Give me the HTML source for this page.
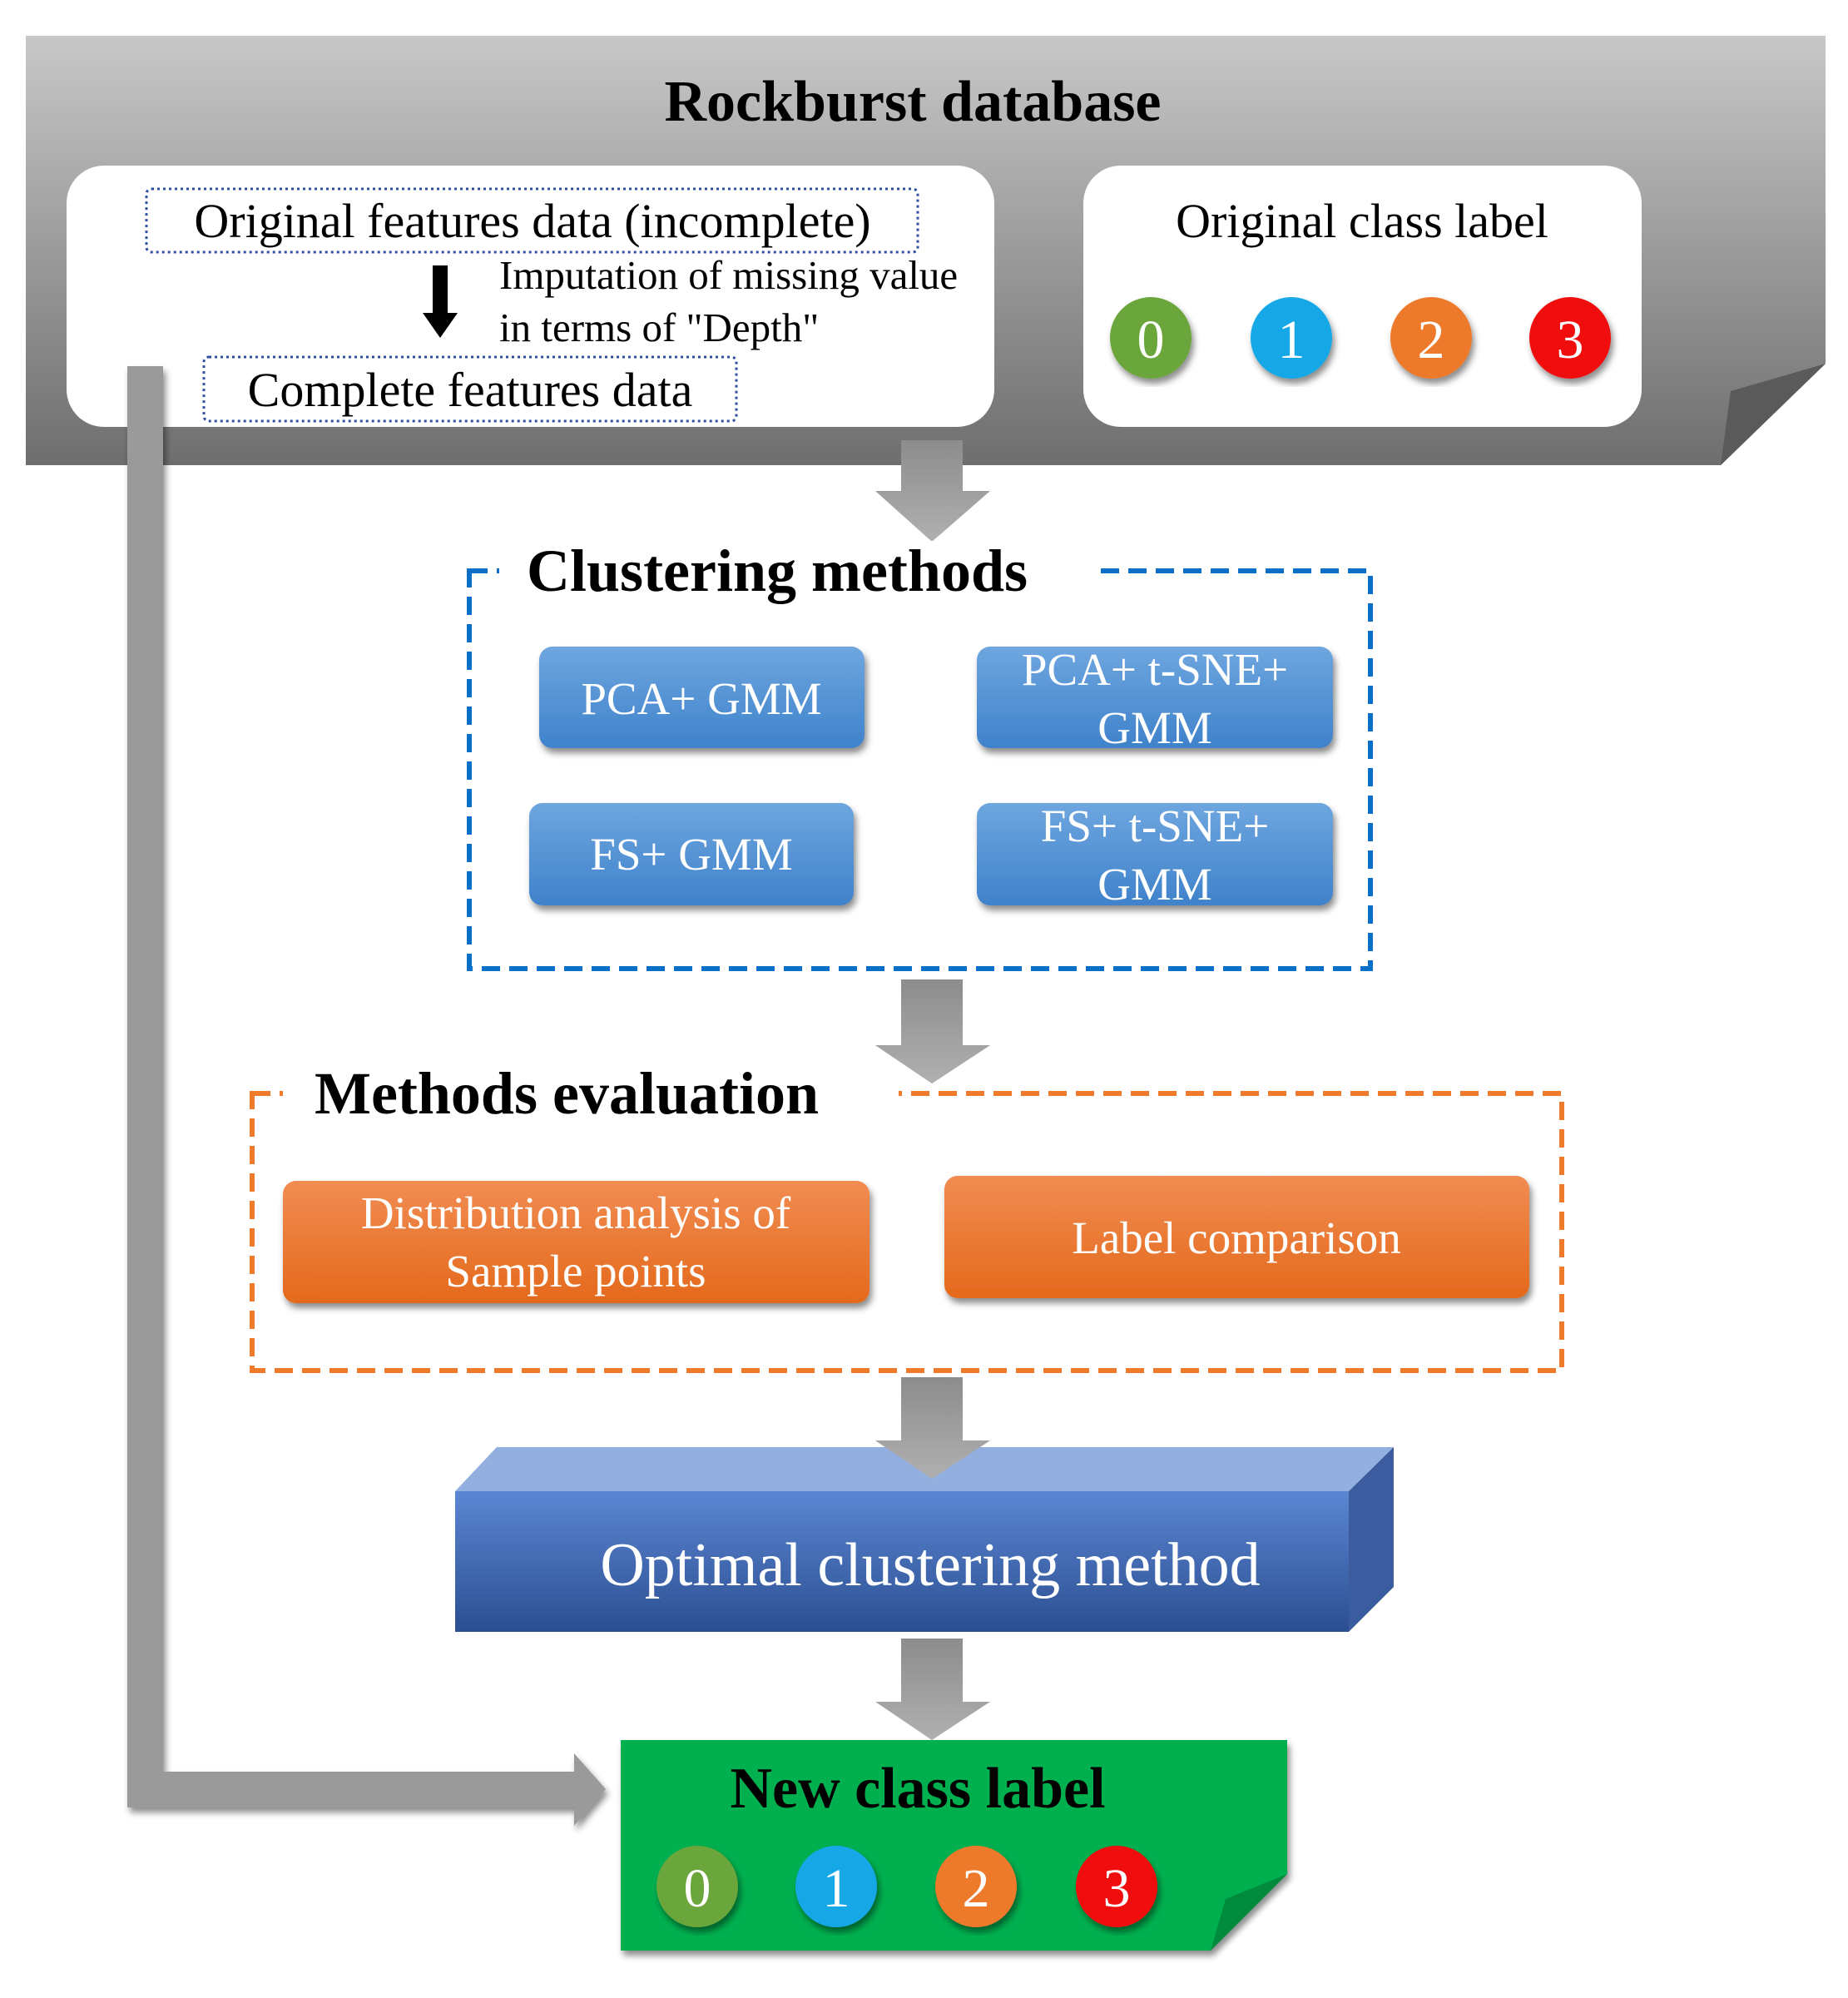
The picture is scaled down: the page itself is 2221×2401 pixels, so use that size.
<!DOCTYPE html>
<html><head><meta charset="utf-8"><style>body{margin:0;background:#fff}svg{display:block}</style></head><body>
<svg width="2221" height="2401" viewBox="0 0 2221 2401" xmlns="http://www.w3.org/2000/svg" font-family="Liberation Serif, serif">
<defs>
<linearGradient id="gb" x1="0" y1="0" x2="0" y2="1"><stop offset="0" stop-color="#c8c8c8"/><stop offset="1" stop-color="#6e6e6e"/></linearGradient>
<linearGradient id="bl" x1="0" y1="0" x2="0" y2="1"><stop offset="0" stop-color="#6ea6df"/><stop offset="1" stop-color="#3f82cb"/></linearGradient>
<linearGradient id="or" x1="0" y1="0" x2="0" y2="1"><stop offset="0" stop-color="#f18c52"/><stop offset="1" stop-color="#e4691b"/></linearGradient>
<linearGradient id="op" x1="0" y1="0" x2="0" y2="1"><stop offset="0" stop-color="#5b86d2"/><stop offset="1" stop-color="#2c4f92"/></linearGradient>
<linearGradient id="ar" x1="0" y1="0" x2="0" y2="1"><stop offset="0" stop-color="#8c8c8c"/><stop offset="1" stop-color="#b0b0b0"/></linearGradient>
<filter id="sh"><feDropShadow dx="3" dy="6" stdDeviation="4" flood-opacity="0.45"/></filter>
</defs>
<!-- gray banner -->
<path d="M31 43 H2194 V437 L2068 559 H31 Z" fill="url(#gb)"/>
<path d="M2194 437 L2080 470 L2068 559 Z" fill="#5a5a5a"/>
<text x="1097" y="145" font-size="70" font-weight="bold" text-anchor="middle">Rockburst database</text>
<rect x="80" y="199" width="1115" height="314" rx="45" fill="#fff"/>
<rect x="1302" y="199" width="671" height="314" rx="45" fill="#fff"/>
<rect x="176" y="227" width="927" height="76" rx="6" fill="none" stroke="#2f4f9f" stroke-width="3" stroke-dasharray="3 4"/>
<text x="640" y="285" font-size="58" text-anchor="middle">Original features data (incomplete)</text>
<path d="M520 319 H538 V376 H550 L529 406 L508 376 H520 Z" fill="#000"/>
<text x="600" y="347" font-size="49">Imputation of missing value</text>
<text x="600" y="410" font-size="49">in terms of "Depth"</text>
<rect x="245" y="429" width="640" height="77" rx="6" fill="none" stroke="#2f4f9f" stroke-width="3" stroke-dasharray="3 4"/>
<text x="565" y="488" font-size="58" text-anchor="middle">Complete features data</text>
<text x="1637" y="285" font-size="58" text-anchor="middle">Original class label</text>
<g filter="url(#sh)" font-size="66" fill="#fff" text-anchor="middle" font-family="Liberation Sans, sans-serif">
<circle cx="1383" cy="406" r="49" fill="#6aa63a"/><circle cx="1552" cy="406" r="49" fill="#12a8e6"/><circle cx="1720" cy="406" r="49" fill="#ec7a2c"/><circle cx="1887" cy="406" r="49" fill="#f01010"/>
</g>
<g font-size="66" fill="#fff" text-anchor="middle"><text x="1383" y="430">0</text><text x="1552" y="430">1</text><text x="1720" y="430">2</text><text x="1887" y="430">3</text></g>
<!-- left connector -->
<path d="M153 440 H196 V2129 H690 V2107 L728 2150 L690 2194 V2172 H153 Z" fill="#9a9a9a" filter="url(#sh)"/>
<!-- arrows -->
<g fill="url(#ar)">
<path d="M1083 529 H1157 V590 H1190 L1120 651 L1052 590 H1083 Z"/>
<path d="M1083 1177 H1157 V1256 H1190 L1120 1302 L1052 1256 H1083 Z"/>
<path d="M1083 1655 H1157 V1731 H1190 L1120 1777 L1052 1731 H1083 Z"/>
</g>
<!-- clustering -->
<rect x="564" y="686" width="1083" height="478" fill="none" stroke="#0a6fc6" stroke-width="6" stroke-dasharray="22 11"/>
<rect x="600" y="650" width="720" height="70" fill="#fff"/>
<text x="633" y="710" font-size="72" font-weight="bold">Clustering methods</text>
<g filter="url(#sh)" fill="url(#bl)">
<rect x="648" y="777" width="391" height="122" rx="16"/><rect x="1174" y="777" width="428" height="122" rx="16"/>
<rect x="636" y="965" width="390" height="123" rx="16"/><rect x="1174" y="965" width="428" height="123" rx="16"/>
</g>
<g fill="#fff" font-size="55" text-anchor="middle">
<text x="843" y="858">PCA+ GMM</text>
<text x="1388" y="823">PCA+ t-SNE+</text><text x="1388" y="893">GMM</text>
<text x="831" y="1045">FS+ GMM</text>
<text x="1388" y="1011">FS+ t-SNE+</text><text x="1388" y="1081">GMM</text>
</g>
<!-- arrow 2 head over dashed -->
<!-- evaluation -->
<rect x="303" y="1314" width="1574" height="333" fill="none" stroke="#f07a2c" stroke-width="6" stroke-dasharray="22 11"/>
<rect x="340" y="1280" width="740" height="70" fill="#fff"/>
<path d="M1083 1177 H1157 V1256 H1190 L1120 1302 L1052 1256 H1083 Z" fill="url(#ar)"/>
<text x="378" y="1338" font-size="72" font-weight="bold">Methods evaluation</text>
<g filter="url(#sh)" fill="url(#or)">
<rect x="340" y="1419" width="705" height="147" rx="16"/><rect x="1135" y="1413" width="703" height="147" rx="16"/>
</g>
<g fill="#fff" font-size="55" text-anchor="middle">
<text x="692" y="1476">Distribution analysis of</text><text x="692" y="1546">Sample points</text>
<text x="1486" y="1506">Label comparison</text>
</g>
<!-- optimal -->
<path d="M547 1792 L597 1739 H1675 L1621 1792 Z" fill="#93afe0"/>
<path d="M1621 1792 L1675 1739 V1907 L1621 1961 Z" fill="#3b5c9e"/>
<rect x="547" y="1792" width="1074" height="169" fill="url(#op)"/>
<path d="M1083 1655 H1157 V1731 H1190 L1120 1777 L1052 1731 H1083 Z" fill="url(#ar)"/>
<text x="1118" y="1905" font-size="74" fill="#fff" text-anchor="middle">Optimal clustering method</text>
<path d="M1083 1969 H1157 V2045 H1190 L1120 2091 L1052 2045 H1083 Z" fill="url(#ar)"/>
<!-- green -->
<path d="M746 2091 H1547 V2252 L1455 2344 H746 Z" fill="#00b050" filter="url(#sh)"/>
<path d="M1547 2252 L1473 2282 L1455 2344 Z" fill="#008a3c"/>
<text x="1103" y="2172" font-size="70" font-weight="bold" text-anchor="middle">New class label</text>
<g filter="url(#sh)">
<circle cx="838" cy="2267" r="49" fill="#6aa63a"/><circle cx="1005" cy="2267" r="49" fill="#12a8e6"/><circle cx="1173" cy="2267" r="49" fill="#ec7a2c"/><circle cx="1342" cy="2267" r="49" fill="#f01010"/>
</g>
<g font-size="66" fill="#fff" text-anchor="middle"><text x="838" y="2291">0</text><text x="1005" y="2291">1</text><text x="1173" y="2291">2</text><text x="1342" y="2291">3</text></g>
</svg>
</body></html>
